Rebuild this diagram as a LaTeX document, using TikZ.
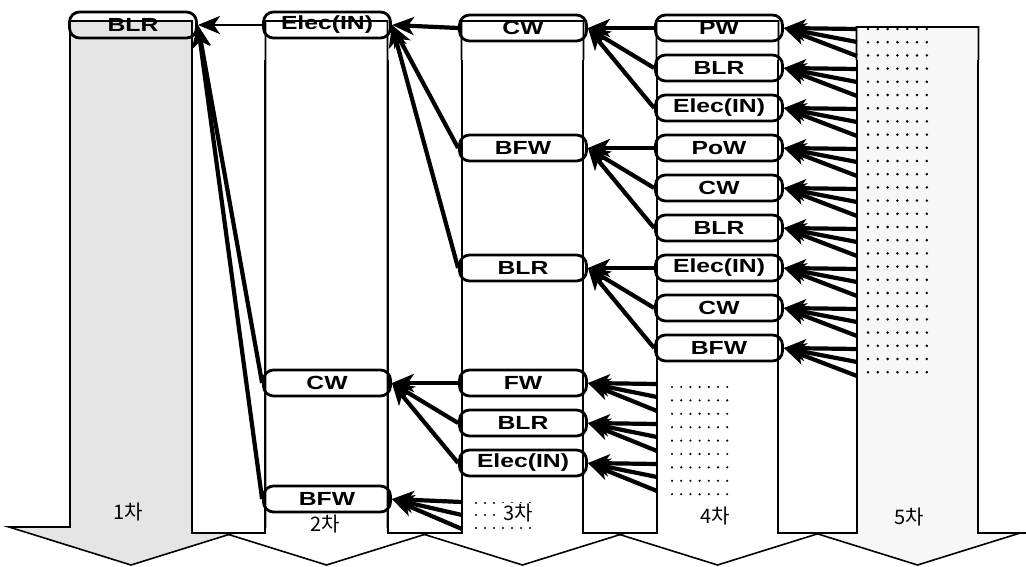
\documentclass[tikz,border=0pt]{standalone}
\usepackage{fontspec}
\usetikzlibrary{arrows.meta}
\newfontfamily\lblfont[FakeStretch=1.3]{Liberation Sans}
\newfontfamily\krfont{Noto Sans CJK KR}

\begin{document}
\begin{tikzpicture}[x=1pt,y=-1pt,
  stage/.style={draw=black, line width=1.6pt},
  item/.style={draw, line width=2.8pt, rounded corners=10pt, minimum width=127pt,
    minimum height=26pt, inner sep=0pt, font=\lblfont\bfseries\fontsize{19}{19}\selectfont},
  feed/.style={line width=4.2pt, -{Stealth[length=22pt,width=18pt,inset=6pt]}},
  tag/.style={font=\krfont\fontsize{20}{20}\selectfont, inner sep=1pt}]
\useasboundingbox (0,0) rectangle (1026,567);
\begin{scope}
\clip (0,0) rectangle (1026,567);

% Stage arrows: fills first, then outlines so the heads cross
\foreach \c/\top/\col in {131/21/gray!20, 326.5/21/white, 522.5/21/white, 717.5/21/white, 917.5/27/gray!6}
  \fill[\col] (\c-61,\top) -- (\c+61,\top) -- (\c+61,527) -- (\c+122,527) -- (\c,565)
    -- (\c-122,527) -- (\c-61,527) -- cycle;
\foreach \c/\top in {131/21, 326.5/21, 522.5/21, 717.5/21, 917.5/27}
  \draw[stage] (\c-61,\top) -- (\c+61,\top) -- (\c+61,527) -- (\c+122,527) -- (\c,565)
    -- (\c-122,527) -- (\c-61,527) -- cycle;

% Gaps between the stages
\foreach \a/\b in {192/265, 388/462, 583/657, 778/857, 978/1040} {
  \fill[white] (\a,60) rectangle (\b,533);
  \draw[stage] (\a,60) -- (\a,533) -- (\b,533) -- (\b,60);
}
\end{scope}

% Dot fields
\foreach \r in {0,...,26}
  \foreach \k in {0,...,6}
    \fill (868+9.8*\k,29+13.2*\r) circle (1.4pt);
\foreach \r in {0,...,8}
  \foreach \k in {0,...,6}
    \fill (672+9.2*\k,387+13.4*\r) circle (1.2pt);
\foreach \r in {503,515,528}
  \foreach \k in {0,...,6}
    \fill (476+9*\k,\r) circle (1.2pt);

% Stage labels
\node[tag] (t1) at (128,512) {1차};
\node[tag] (t2) at (325,524) {2차};
\node[tag, fill=white] (t3) at (518,513) {3차};
\node[tag] (t4) at (715,516) {4차};
\node[tag] (t5) at (909,517) {5차};

% Stage 1 and 2
\node[item] (n1blr) at (133,25) {BLR};
\node[item] (n2elec) at (327,25) {Elec(IN)};
\node[item] (n2cw) at (327,383) {CW};
\node[item] (n2bfw) at (327,499) {BFW};

% Stage 3
\node[item] (n3cw) at (523,28) {CW};
\node[item] (n3bfw) at (523,148) {BFW};
\node[item] (n3blr) at (523,268) {BLR};
\node[item] (n3fw) at (523,383) {FW};
\node[item] (n3blrb) at (523,423) {BLR};
\node[item] (n3elec) at (523,463) {Elec(IN)};

% Stage 4, each fed by three lines from stage 5
\foreach \nm/\txt [count=\i from 0] in {pw/PW, blr/BLR, elec/Elec(IN), pow/PoW, cw/CW,
    blrb/BLR, elecb/Elec(IN), cwb/CW, bfw/BFW} {
  \node[item] (n4\nm) at (719,28+40*\i) {\txt};
  \foreach \k/\d in {a/1, b/14, c/28} {
    \coordinate (n4\nm-\k) at (857,28+40*\i+\d);
    \draw[feed] (n4\nm-\k) -- (n4\nm.east);
  }
}

% Lines from the dot fields of stage 4 and 3
\foreach \t/\x/\y in {n3fw/657/383, n3blrb/657/423, n3elec/657/463, n2bfw/462/501}
  \foreach \k/\d in {a/1, b/14, c/28} {
    \coordinate (\t-\k) at (\x,\y+\d);
    \draw[feed] (\t-\k) -- (\t.east);
  }

% Stage 4 -> stage 3
\foreach \s/\t in {n4pw/n3cw, n4blr/n3cw, n4elec/n3cw, n4pow/n3bfw, n4cw/n3bfw,
    n4blrb/n3bfw, n4elecb/n3blr, n4cwb/n3blr, n4bfw/n3blr}
  \draw[feed] (\s.west) -- (\t.east);

% Stage 3 -> stage 2
\foreach \s/\t in {n3cw/n2elec, n3bfw/n2elec, n3blr/n2elec, n3fw/n2cw, n3blrb/n2cw, n3elec/n2cw}
  \draw[feed] (\s.west) -- (\t.east);

% Stage 2 -> stage 1
\draw[feed, line width=2.8pt] (n2elec.west) -- (n1blr.east);
\draw[feed] (n2cw.west) -- (n1blr.east);
\draw[feed] (n2bfw.west) -- (n1blr.east);
\end{tikzpicture}
\end{document}
